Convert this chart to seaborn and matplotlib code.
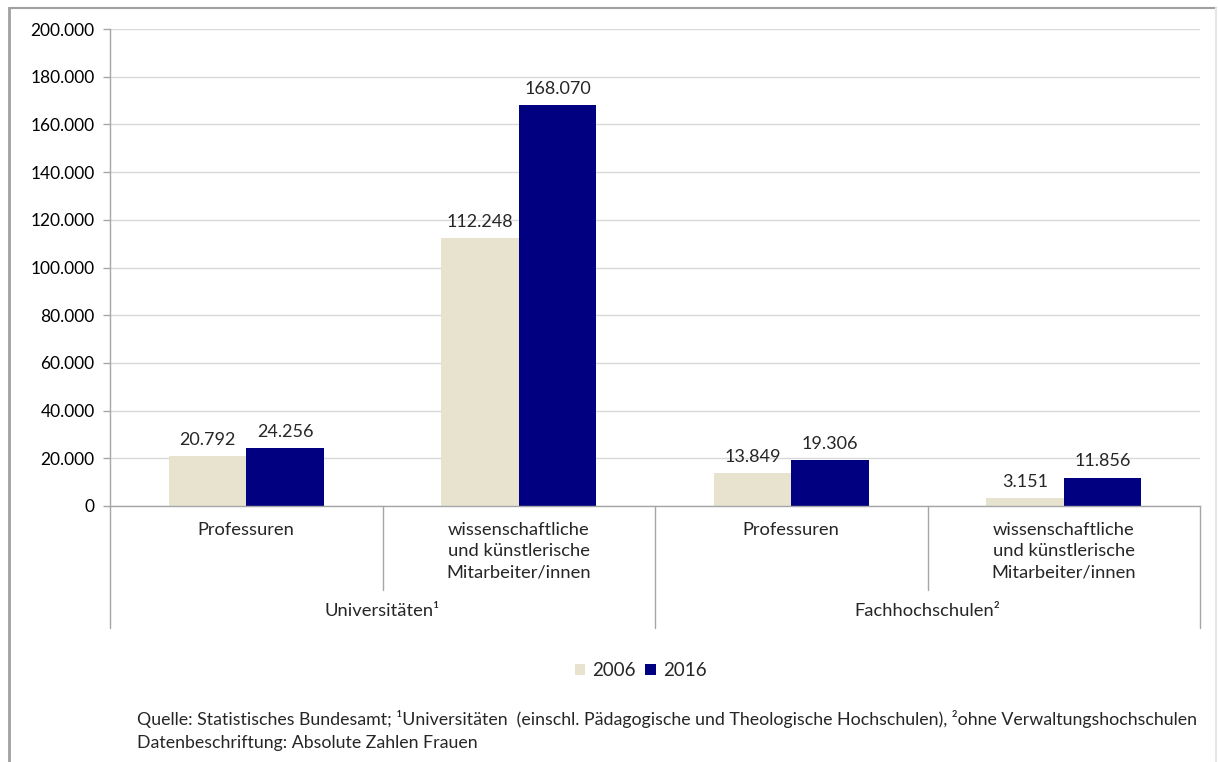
import pandas as pd
import matplotlib.pyplot as plt
import matplotlib.transforms as mtransforms
from matplotlib.ticker import FuncFormatter, MultipleLocator
from matplotlib.lines import Line2D
import seaborn as sns

# Daten
kategorien = ['Uni_Prof', 'Uni_WiMi', 'FH_Prof', 'FH_WiMi']
kategorie_labels = ['Professuren',
                    'wissenschaftliche\nund künstlerische\nMitarbeiter/innen',
                    'Professuren',
                    'wissenschaftliche\nund künstlerische\nMitarbeiter/innen']
gruppen = ['Universitäten¹', 'Fachhochschulen²']
jahre = ['2006', '2016']
werte_2006 = [20792, 112248, 13849, 3151]
werte_2016 = [24256, 168070, 19306, 11856]
farben = {'2006': '#E8E3CE', '2016': '#000080'}

df = pd.DataFrame({
    'kategorie': kategorien * 2,
    'jahr': ['2006'] * 4 + ['2016'] * 4,
    'wert': werte_2006 + werte_2016,
})

sns.set_style('white')
plt.rcParams['font.family'] = ['Lato', 'DejaVu Sans']

def de_fmt(v):
    return f'{v:,.0f}'.replace(',', '.')

fig = plt.figure(figsize=(12.18, 7.62), dpi=100)
ax = fig.add_axes([110 / 1218, 1 - 506 / 762, 1090 / 1218, 477 / 762])

sns.barplot(data=df, x='kategorie', y='wert', hue='jahr', order=kategorien,
            hue_order=jahre, palette=farben, width=0.57, saturation=1,
            linewidth=0, ax=ax, legend=True)

ax.set_ylim(0, 200000)
ax.set_xlim(-0.5, 3.5)
ax.yaxis.set_major_locator(MultipleLocator(20000))
ax.yaxis.set_major_formatter(FuncFormatter(lambda v, p: de_fmt(v)))
ax.grid(axis='y', color='#D9D9D9', linewidth=1)
ax.set_axisbelow(True)
ax.set_xlabel('')
ax.set_ylabel('')
ax.set_xticks([])
ax.tick_params(axis='y', which='major', left=True, length=5, width=1,
               color='#A6A6A6', labelsize=12.5, pad=6, labelcolor='#000000')

for side in ['top', 'right']:
    ax.spines[side].set_visible(False)
for side in ['left', 'bottom']:
    ax.spines[side].set_color('#A6A6A6')
    ax.spines[side].set_linewidth(1)

for cont in ax.containers:
    ax.bar_label(cont, fmt=de_fmt, padding=6, fontsize=13)

# Kategorie-Achse mit zwei Ebenen
trans = mtransforms.blended_transform_factory(ax.transData, ax.transAxes)
for xpos in [-0.5, 1.5, 3.5]:
    ax.plot([xpos, xpos], [0, -0.256], transform=trans, clip_on=False,
            color='#A6A6A6', linewidth=1)
for xpos in [0.5, 2.5]:
    ax.plot([xpos, xpos], [0, -0.176], transform=trans, clip_on=False,
            color='#A6A6A6', linewidth=1)
for i, lab in enumerate(kategorie_labels):
    ax.text(i, -0.033, lab, transform=trans, ha='center', va='top',
            fontsize=13.2, linespacing=1.4)
for i, g in enumerate(gruppen):
    ax.text(2 * i + 0.5, -0.22, g, transform=trans, ha='center',
            va='center', fontsize=13.2)

# Legende
handles, labels = ax.get_legend_handles_labels()
ax.legend(handles, labels, loc='center', bbox_to_anchor=(0.487, -0.345),
          ncol=2, frameon=False, fontsize=13.5, handlelength=0.55,
          handleheight=0.55, handletextpad=0.4, columnspacing=0.5)

# Quelle
fig.text(137 / 1218, 1 - 719 / 762,
         'Quelle: Statistisches Bundesamt; ¹Universitäten  (einschl. Pädagogische '
         'und Theologische Hochschulen), ²ohne Verwaltungshochschulen',
         ha='left', va='center', fontsize=12.8)
fig.text(137 / 1218, 1 - 743 / 762, 'Datenbeschriftung: Absolute Zahlen Frauen',
         ha='left', va='center', fontsize=12.8)

# Rahmen (links und oben grau, rechts hell)
x0, x1, y_top = 9 / 1218, 1216 / 1218, 1 - 8 / 762
fig.add_artist(Line2D([x0, x0], [0, y_top], transform=fig.transFigure,
                      color='#A0A0A0', linewidth=2))
fig.add_artist(Line2D([x0, x1], [y_top, y_top], transform=fig.transFigure,
                      color='#A0A0A0', linewidth=1.5))
fig.add_artist(Line2D([x1, x1], [0, y_top], transform=fig.transFigure,
                      color='#E6E6E6', linewidth=1.5))

plt.savefig('out.png', dpi=100)
